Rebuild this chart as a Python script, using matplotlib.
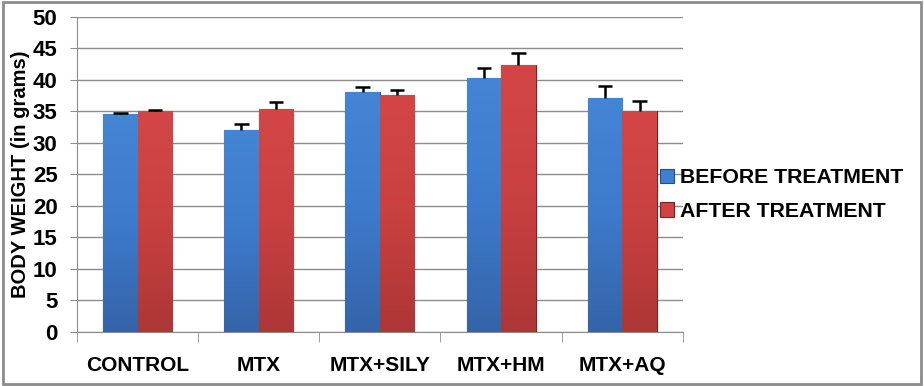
import numpy as np
import matplotlib.pyplot as plt
from matplotlib.patches import Rectangle
from matplotlib.colors import LinearSegmentedColormap

plt.rcParams['font.family'] = ['Liberation Sans', 'DejaVu Sans']
plt.rcParams['font.weight'] = 'bold'

groups = ['CONTROL', 'MTX', 'MTX+SILY', 'MTX+HM', 'MTX+AQ']
before = [34.6, 32.1, 38.1, 40.3, 37.1]
before_err = [0.2, 0.9, 0.8, 1.6, 1.9]
after = [35.1, 35.4, 37.6, 42.4, 35.1]
after_err = [0.2, 1.1, 0.8, 1.9, 1.6]

fig = plt.figure(figsize=(9.24, 3.86), dpi=100)
ax = fig.add_axes([0.0833, 0.1399, 0.6557, 0.8161])

x = np.arange(len(groups))
w = 0.285

blue_cm = LinearSegmentedColormap.from_list('b', ['#3464a8', '#3d7acb', '#4585d6'])
red_cm = LinearSegmentedColormap.from_list('r', ['#ad3636', '#c94040', '#d44646'])

bars_b = ax.bar(x - w/2, before, w, color='#3f7fd3', edgecolor='#1f4f8f',
                linewidth=0.8, label='BEFORE TREATMENT', zorder=3)
bars_a = ax.bar(x + w/2, after, w, color='#d24242', edgecolor='#7f1f1f',
                linewidth=0.8, label='AFTER TREATMENT', zorder=3)

# gradient fill inside each bar
grad = np.linspace(0, 1, 256).reshape(-1, 1)
for bars, cm in [(bars_b, blue_cm), (bars_a, red_cm)]:
    for b in bars:
        x0, y0 = b.get_x(), b.get_y()
        im = ax.imshow(grad, cmap=cm, origin='lower', aspect='auto',
                       extent=[x0, x0 + b.get_width(), y0, y0 + b.get_height()],
                       zorder=3.5)
        im.set_clip_path(b)

# upper-only error bars
cap = 0.06
for xs, vals, errs in [(x - w/2, before, before_err), (x + w/2, after, after_err)]:
    tops = np.array(vals) + np.array(errs)
    ax.vlines(xs, vals, tops, color='black', linewidth=1.8, zorder=5)
    ax.hlines(tops, xs - cap, xs + cap, color='black', linewidth=1.8, zorder=5)

ax.set_xlim(-0.5, len(groups) - 0.5)
ax.set_ylim(0, 50)
ax.set_yticks(range(0, 51, 5))
ax.yaxis.grid(True, color='#8c8c8c', linewidth=1)
ax.set_axisbelow(True)

ax.set_xticks(x)
ax.set_xticklabels(groups, fontsize=15, fontweight='bold')
ax.set_xticks(np.arange(-0.5, len(groups), 1), minor=True)
ax.tick_params(axis='x', which='major', length=0, pad=17)
ax.tick_params(axis='x', which='minor', length=7, color='#8c8c8c')
ax.tick_params(axis='y', length=5, color='#8c8c8c', labelsize=16, pad=9)

for s in ['top', 'right']:
    ax.spines[s].set_visible(False)
for s in ['left', 'bottom']:
    ax.spines[s].set_color('#8c8c8c')

ax.set_ylabel('BODY WEIGHT (in grams)', fontsize=14.5, fontweight='bold', labelpad=2)

leg = fig.legend(loc='center left', bbox_to_anchor=(0.694, 0.496), frameon=False,
                 fontsize=15.3, handlelength=0.65, handleheight=0.65,
                 handletextpad=0.25, labelspacing=0.7)

fig.patches.append(Rectangle((0.003, 0.006), 0.994, 0.988, transform=fig.transFigure,
                             fill=False, edgecolor='#8c8c8c', linewidth=2))

fig.savefig('out.png', dpi=100)
